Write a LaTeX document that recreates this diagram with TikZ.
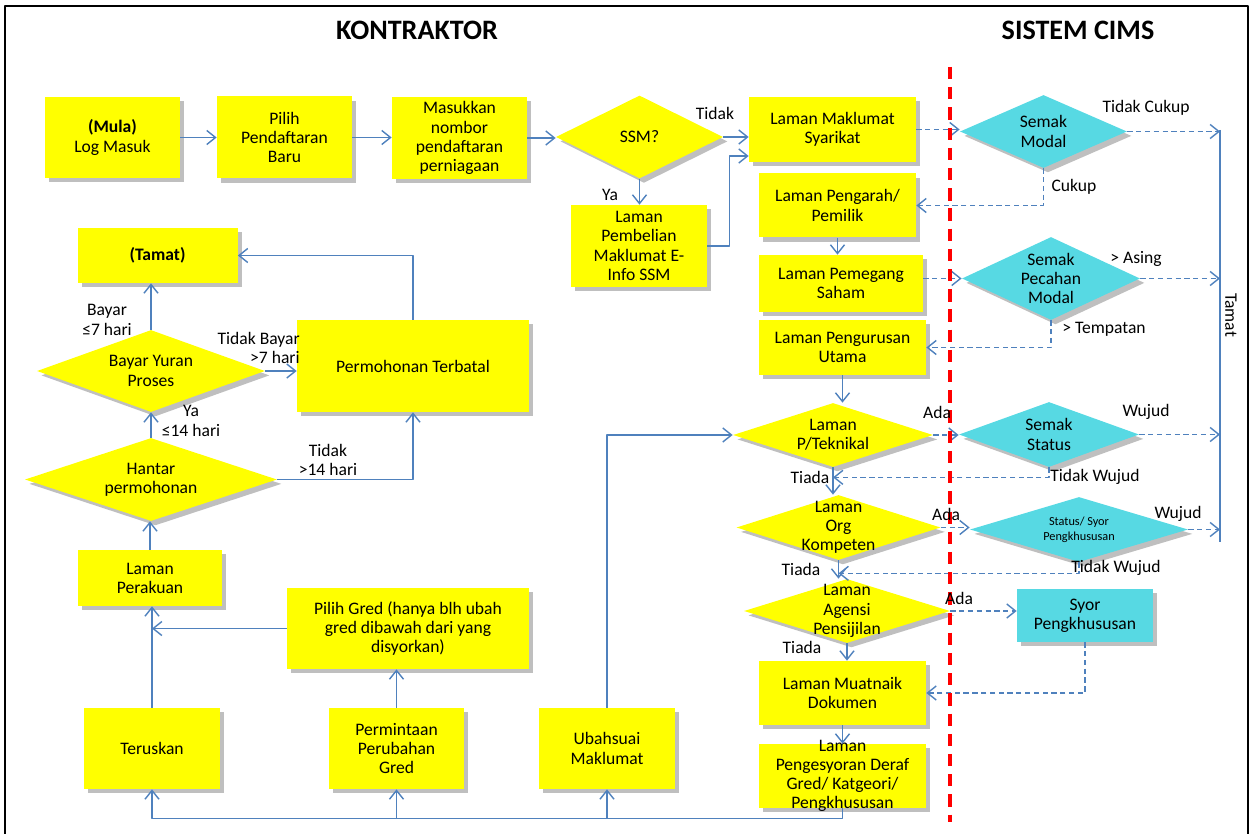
\documentclass[tikz,border=0pt]{standalone}
\usepackage{fontspec}
\setmainfont{Carlito}
\usetikzlibrary{shapes.geometric}
\usetikzlibrary{arrows.meta}
\usetikzlibrary{shadows}

\newdimen\px
\px=0.02cm
\newcommand{\teksfont}{\fontsize{10}{10.9}\selectfont}
\newcommand{\kecilfont}{\fontsize{7}{8.3}\selectfont}

\definecolor{kuning}{rgb}{1.,1.,0.}
\definecolor{biru}{rgb}{0.31,0.506,0.741}
\definecolor{sian}{rgb}{0.34,0.85,0.89}
\definecolor{merah}{rgb}{1.,0.,0.}

\tikzset{
  bayang/.style={drop shadow={shadow xshift=2.5pt,shadow yshift=-2.5pt,fill=black,opacity=0.25}},
  ykotak/.style 2 args={rectangle,fill=kuning,bayang,minimum width=#1\px,minimum height=#2\px,inner sep=1pt,align=center,font=\teksfont},
  skotak/.style 2 args={ykotak={#1}{#2},fill=sian},
  yintan/.style 2 args={diamond,fill=kuning,bayang,minimum width=#1\px,minimum height=#2\px,inner sep=0pt},
  sintan/.style 2 args={yintan={#1}{#2},fill=sian},
  dteks/.style={font=\teksfont,align=center,inner sep=0pt},
  lbl/.style={font=\teksfont,align=center,inner sep=0pt},
  alir/.style={draw=biru,line width=0.8pt},
  putus/.style={alir,dash pattern=on 3pt off 2pt},
  tajuk/.style={font=\fontsize{16}{19}\selectfont\bfseries}
}

\begin{document}
\begin{tikzpicture}[line join=round,>={Straight Barb[length=5pt,width=8pt]},x=0.02cm,y=-0.02cm]
\useasboundingbox (0,0) rectangle (1254,834);
\draw [line width=1.1pt] (5,834) -- (5,6) -- (1248,6) -- (1248,834);

\node[tajuk] (tajukKiri) at (417,30) {KONTRAKTOR};
\node[tajuk] (tajukKanan) at (1078,30) {SISTEM CIMS};

% baris atas
\node[ykotak={135}{81}] (mula) at (112.5,137.5) {\textbf{(Mula)}\\Log Masuk};
\node[ykotak={135}{82}] (pilih) at (284.5,137.5) {Pilih\\Pendaftaran\\Baru};
\node[ykotak={135}{82}] (masuk) at (459.5,138) {Masukkan\\nombor\\pendaftaran\\perniagaan};
\node[yintan={167}{83},label={[dteks]center:SSM?}] (ssm) at (639.5,137) {};
\node[ykotak={136}{82}] (beli) at (639,246) {Laman\\Pembelian\\Maklumat E-\\Info SSM};

% lajur kontraktor kanan
\node[ykotak={167}{65}] (syarikat) at (832.5,129.5) {Laman Maklumat\\Syarikat};
\node[ykotak={157}{64}] (pengarah) at (837.5,205.5) {Laman Pengarah/\\Pemilik};
\node[ykotak={164}{57}] (saham) at (841,283.5) {Laman Pemegang\\Saham};
\node[ykotak={167}{55}] (urus) at (842.5,347.5) {Laman Pengurusan\\Utama};
\node[yintan={200}{64},label={[dteks]center:{Laman\\P/Teknikal}}] (tekni) at (833,435) {};
\node[yintan={204}{65},label={[dteks]center:{Laman\\Org\\Kompeten}}] (org) at (838.5,527.5) {};
\node[yintan={206}{64},label={[dteks]center:{Laman\\Agensi\\Pensijilan}}] (agensi) at (847,611) {};
\node[ykotak={167}{64}] (muat) at (842.5,693) {Laman Muatnaik\\Dokumen};
\node[ykotak={167}{64},label={[dteks]center:{Laman\\Pengesyoran Deraf\\Gred/ Katgeori/\\Pengkhususan}}] (deraf) at (842.5,776) {};

% sistem cims
\node[sintan={167}{73},label={[dteks]center:{Semak\\Modal}}] (modal) at (1043.5,131.5) {};
\node[sintan={178}{83},label={[dteks]center:{Semak\\Pecahan\\Modal}}] (pecahan) at (1051,278.5) {};
\node[sintan={180}{65},label={[dteks]center:{Semak\\Status}}] (status) at (1049,434.5) {};
\node[sintan={218}{65},label={[dteks,font=\kecilfont]center:{Status/ Syor\\Pengkhususan}}] (syorst) at (1079,529.5) {};
\node[skotak={136}{53}] (syor) at (1085,615.5) {Syor\\Pengkhususan};
\coordinate (tamatA) at (1220,130);
\coordinate (tamatB) at (1220,542);

% kiri
\node[ykotak={160}{55}] (tamat) at (157.5,255.5) {\textbf{(Tamat)}};
\node[yintan={228}{82},label={[dteks]center:{Bayar Yuran\\Proses}}] (bayar) at (151,371) {};
\node[ykotak={232}{92}] (batal) at (413,366) {Permohonan Terbatal};
\node[yintan={252}{83},label={[dteks]center:{Hantar\\permohonan}}] (hantar) at (151,479.5) {};
\node[ykotak={144}{56}] (perakuan) at (150,578) {Laman\\Perakuan};
\node[ykotak={242}{81}] (gred) at (408,628.5) {Pilih Gred (hanya blh ubah\\gred dibawah dari yang\\disyorkan)};
\node[ykotak={136}{81}] (terus) at (152,748.5) {Teruskan};
\node[ykotak={135}{81}] (minta) at (396.5,748.5) {Permintaan\\Perubahan\\Gred};
\node[ykotak={136}{81}] (ubah) at (607,748.5) {Ubahsuai\\Maklumat};
\coordinate (bas) at ([yshift=-10\px]deraf.south);

% aliran kontraktor
\draw [alir,->] (mula.east) -- (mula.east -| pilih.west);
\draw [alir,->] (pilih.east) -- (pilih.east -| masuk.west);
\draw [alir,->] (masuk.east) -- (masuk.east -| ssm.west);
\draw [alir,->] (ssm.east) -- (ssm.east -| syarikat.west);
\draw [alir,->] (ssm.south) -- (ssm.south |- beli.north);
\draw [alir,->] (beli.east) -- ++(22,0) |- ([yshift=-26.5\px]syarikat.west);
\draw [alir,->] (pengarah.south) -- (pengarah.south |- saham.north);
\draw [alir,->] (urus.south) -- (urus.south |- tekni.north);
\draw [alir,->] (tekni.south) -- (tekni.south |- org.north);
\draw [alir,->] (org.south) -- (org.south |- agensi.north);
\draw [alir,->] (agensi.south) -- (agensi.south |- muat.north);
\draw [alir,->] (muat.south) -- (muat.south |- deraf.north);
\draw [alir,->] (deraf.south) -- (bas) -| (terus.south);
\draw [alir,->] (minta.south |- bas) -- (minta.south);
\draw [alir,->] (ubah.south |- bas) -- (ubah.south);
\draw [alir,->] (ubah.north) |- (tekni.west);
\draw [alir,->] (terus.north) -- (terus.north |- perakuan.south);
\draw [alir,->] (gred.west) -- (terus.north |- gred.west);
\draw [alir,->] (minta.north) -- (minta.north |- gred.south);
\draw [alir,->] (perakuan.north) -- (perakuan.north |- hantar.south);
\draw [alir,->] (hantar.north) -- (hantar.north |- bayar.south);
\draw [alir,->] (hantar.east) -| (batal.south);
\draw [alir,->] (bayar.east) -- (bayar.east -| batal.west);
\draw [alir,->] (bayar.north) -- (bayar.north |- tamat.south);
\draw [alir,->] (batal.north) |- (tamat.east);

% aliran ke sistem
\draw [putus,->] (syarikat.east) -- (syarikat.east -| modal.west);
\draw [putus,->] (saham.east |- pecahan.west) -- (pecahan.west);
\draw [putus,->] (tekni.east) -- (tekni.east -| status.west);
\draw [putus,->] (org.east) -- (org.east -| syorst.west);
\draw [putus,->] (agensi.east) -- (agensi.east -| syor.west);
\draw [putus,->] (modal.south) |- (pengarah.east);
\draw [putus,->] (pecahan.south) |- (urus.east);
\draw [putus,->] (status.south) |- ([yshift=-10\px]tekni.south);
\draw [putus,->] (syorst.south) |- ([yshift=-13\px]org.south);
\draw [putus,->] (syor.south) |- (muat.east);
\draw [putus,->] (modal.east) -- (modal.east -| tamatA);
\draw [putus,->] (pecahan.east) -- (pecahan.east -| tamatA);
\draw [putus,->] (status.east) -- (status.east -| tamatA);
\draw [putus,->] (syorst.east) -- (syorst.east -| tamatA);
\draw [alir] (tamatA) -- (tamatB);

\draw [merah,line width=2.3pt,dash pattern=on 7pt off 4.5pt] (950,67) -- (950,822);

% label
\node[lbl] (lTidak) at (715,113) {Tidak};
\node[lbl] (lYa) at (610,195) {Ya};
\node[lbl] (lTidakCukup) at (1146,108) {Tidak Cukup};
\node[lbl] (lCukup) at (1074,187) {Cukup};
\node[lbl] (lAsing) at (1136,259) {> Asing};
\node[lbl] (lTempatan) at (1104,329) {> Tempatan};
\node[lbl] (lAda1) at (937,412) {Ada};
\node[lbl] (lWujud1) at (1146,412) {Wujud};
\node[lbl] (lTiada1) at (810,477) {Tiada};
\node[lbl] (lTW1) at (1095,477) {Tidak Wujud};
\node[lbl] (lAda2) at (946,514) {Ada};
\node[lbl] (lWujud2) at (1178,514) {Wujud};
\node[lbl] (lTiada2) at (801,569) {Tiada};
\node[lbl] (lTW2) at (1116,568) {Tidak Wujud};
\node[lbl] (lAda3) at (959,598) {Ada};
\node[lbl] (lTiada3) at (802,647) {Tiada};
\node[lbl,rotate=-90] (lTamat) at (1231,315) {Tamat};
\node[lbl] (lBayar) at (107,320) {Bayar\\≤7 hari};
\node[lbl,align=right,anchor=east] (lTidakBayar) at (300,348) {Tidak Bayar\\>7 hari};
\node[lbl] (lYa14) at (191,421) {Ya\\≤14 hari};
\node[lbl] (lTidak14) at (328,460) {Tidak\\>14 hari};
\end{tikzpicture}
\end{document}
